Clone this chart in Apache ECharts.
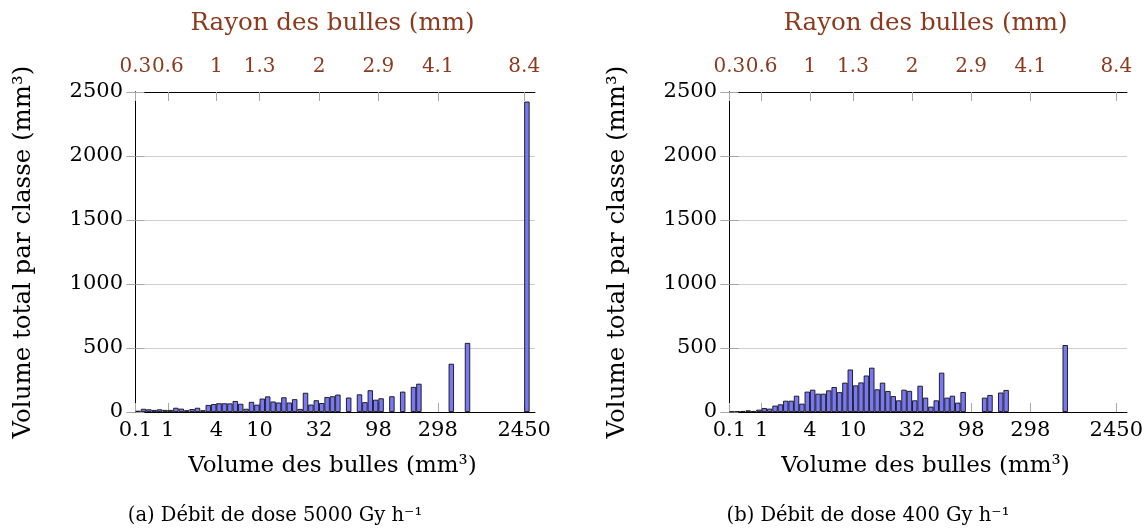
<!DOCTYPE html>
<html>
<head>
<meta charset="utf-8">
<script src="https://cdn.jsdelivr.net/npm/echarts@6/dist/echarts.min.js"></script>
<style>
html,body{margin:0;padding:0;background:#fff;}
#chart{width:1146px;height:531px;}
</style>
</head>
<body>
<div id="chart"></div>
<script>
// Bin edges (class index) carrying tick labels
const binTicks = [0, 6, 15, 23, 34, 45, 56, 72];
const volumeLabels = ['0.1', '1', '4', '10', '32', '98', '298', '2450'];
const radiusLabels = ['0.3', '0.6', '1', '1.3', '2', '2.9', '4.1', '8.4'];

// (a) 5000 Gy/h : total volume per class, classes 0..72
const volumesA = [
  10, 25, 21, 16, 21, 16, 16, 33, 26, 14,
  23, 33, 14, 55, 62, 68, 68, 67, 86, 64,
  25, 79, 57, 105, 122, 82, 74, 115, 74, 100,
  24, 150, 58, 92, 70, 117, 123, 136, 0, 113,
  0, 138, 77, 170, 96, 107, 0, 123, 0, 159,
  0, 196, 221, 0, 0, 0, 0, 0, 377, 0,
  0, 540, 0, 0, 0, 0, 0, 0, 0, 0,
  0, 0, 2425
];
// (b) 400 Gy/h : total volume per class, classes 0..62
const volumesB = [
  3, 5, 8, 13, 8, 18, 31, 26, 50, 60,
  88, 88, 127, 65, 159, 174, 143, 143, 169, 195,
  155, 229, 332, 208, 231, 285, 346, 177, 229, 164,
  124, 91, 174, 165, 91, 205, 112, 42, 91, 307,
  112, 127, 73, 156, 0, 0, 0, 112, 133, 0,
  152, 172, 0, 0, 0, 0, 0, 0, 0, 0,
  0, 0, 523
];
const captions = ['(a) Débit de dose 5000 Gy h⁻¹', '(b) Débit de dose 400 Gy h⁻¹'];
const xName = 'Volume des bulles (mm³)';
const topName = 'Rayon des bulles (mm)';
const yName = 'Volume total par classe (mm³)';

const FONT = 'DejaVu Serif';
const FS = 21;      // tick labels
const FT = 20;      // top tick labels
const FN = 24.5;    // axis names
const FX = 23;      // bottom axis name
const FC = 19.5;    // captions
const BROWN = '#8b3a1e';
const TICK = '#a8a8a8';

const lookup = (labels) => (v) => {
  const i = binTicks.indexOf(Math.round(v));
  return i >= 0 ? labels[i] : '';
};

function bottomAxis(g) {
  return {
    type: 'value', gridIndex: g, position: 'bottom', min: -1, max: 74,
    axisLine: {show: true, onZero: false, lineStyle: {color: '#000', width: 1}},
    axisTick: {show: true, inside: true, length: 9, customValues: binTicks, lineStyle: {color: TICK}},
    axisLabel: {show: true, customValues: binTicks, formatter: lookup(volumeLabels),
      showMinLabel: true, showMaxLabel: true, hideOverlap: false,
      color: '#000', fontFamily: FONT, fontSize: FS, margin: 8},
    splitLine: {show: false},
    name: xName, nameLocation: 'middle', nameGap: 43,
    nameTextStyle: {color: '#000', fontFamily: FONT, fontSize: FX}
  };
}
function topAxis(g) {
  return {
    type: 'value', gridIndex: g, position: 'top', min: -1, max: 74,
    axisLine: {show: true, onZero: false, lineStyle: {color: '#000', width: 1}},
    axisTick: {show: true, inside: true, length: 9, customValues: binTicks, lineStyle: {color: TICK}},
    axisLabel: {show: true, customValues: binTicks, formatter: lookup(radiusLabels),
      showMinLabel: true, showMaxLabel: true, hideOverlap: false,
      color: BROWN, fontFamily: FONT, fontSize: FT, margin: 15},
    splitLine: {show: false},
    name: topName, nameLocation: 'middle', nameGap: 56,
    nameTextStyle: {color: BROWN, fontFamily: FONT, fontSize: FN}
  };
}
function leftAxis(g) {
  return {
    type: 'value', gridIndex: g, position: 'left', min: 0, max: 2500, interval: 500,
    axisLine: {show: true, lineStyle: {color: '#000', width: 1}},
    axisTick: {show: true, inside: true, length: 9, lineStyle: {color: TICK}},
    axisLabel: {show: true, color: '#000', fontFamily: FONT, fontSize: FS, margin: 7,
      formatter: (v) => String(v)},
    splitLine: {show: true, lineStyle: {color: '#cfcfcf', width: 1}},
    name: yName, nameLocation: 'middle', nameGap: 94, nameRotate: 90,
    nameTextStyle: {color: '#000', fontFamily: FONT, fontSize: FN}
  };
}
function rightAxis(g) {
  return {
    type: 'value', gridIndex: g, position: 'right', min: 0, max: 2500, interval: 500,
    axisLine: {show: true, lineStyle: {color: '#000', width: 1}},
    axisTick: {show: true, inside: true, length: 9, lineStyle: {color: TICK}},
    axisLabel: {show: false},
    splitLine: {show: false}
  };
}
function barSeries(values, g) {
  return {
    type: 'bar', xAxisIndex: g * 2, yAxisIndex: g * 2,
    data: values.map((v, i) => [i + 0.5, v === 0 ? null : v]),
    barWidth: 5.4,
    itemStyle: {color: '#7878f6', borderColor: '#111', borderWidth: 0.9},
    silent: true
  };
}

const chart = echarts.init(document.getElementById('chart'), null, {renderer: 'canvas'});
chart.setOption({
  animation: false,
  backgroundColor: '#fff',
  textStyle: {fontFamily: FONT},
  grid: [
    {left: 130, top: 92, width: 405, height: 320},
    {left: 724, top: 92, width: 405, height: 320}
  ],
  xAxis: [bottomAxis(0), topAxis(0), bottomAxis(1), topAxis(1)],
  yAxis: [leftAxis(0), rightAxis(0), leftAxis(1), rightAxis(1)],
  series: [barSeries(volumesA, 0), barSeries(volumesB, 1)],
  graphic: [
    {type: 'text', x: 275, y: 516, style: {text: captions[0], fill: '#000', fontFamily: FONT, fontSize: FC, align: 'center', verticalAlign: 'middle'}},
    {type: 'text', x: 868, y: 516, style: {text: captions[1], fill: '#000', fontFamily: FONT, fontSize: FC, align: 'center', verticalAlign: 'middle'}}
  ]
});
</script>
</body>
</html>
